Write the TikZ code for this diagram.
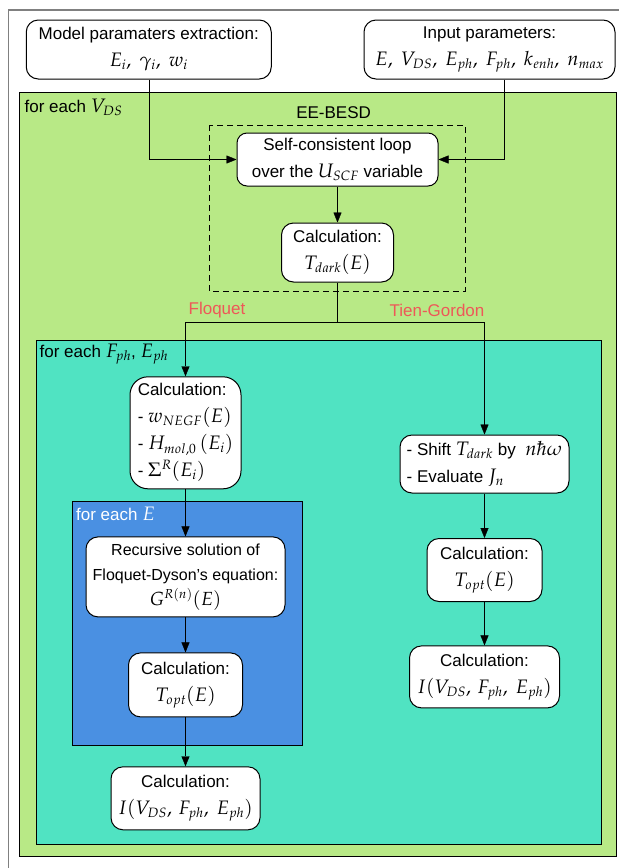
\documentclass[tikz,border=0pt]{standalone}
\usepackage{mathpazo}
\usepackage{fontspec}
\setmainfont{Liberation Sans}
\DeclareMathSizes{17}{19.5}{13.5}{10}
\DeclareMathSizes{16}{19}{13}{10}
\usetikzlibrary{arrows.meta}
\definecolor{verde}{HTML}{B8E986}
\definecolor{turquesa}{HTML}{50E3C2}
\definecolor{azul}{HTML}{4A90E2}
\definecolor{rojo}{RGB}{238,88,88}
\begin{document}
\begin{tikzpicture}[x=1pt, y=-1pt,
  font=\fontsize{17}{27}\selectfont,
  >={Triangle[length=10pt,width=8pt]},
  caja/.style={draw, fill=white, rounded corners=12pt, align=center, inner sep=2pt, line width=1pt},
  rotulo/.style={anchor=west, inner sep=0pt}]
\useasboundingbox (0,0) rectangle (619,868);

% Marco exterior
\draw[gray, line width=1.3pt] (8.7,868) -- (8.7,10) -- (619,10);

% Bloques de fondo
\draw[fill=verde, line width=1pt] (19.7,92) rectangle (616.5,856);
\draw[fill=turquesa, line width=1pt] (36.3,340.7) rectangle (601,844.3);
\draw[fill=azul, line width=1pt] (72,501) rectangle (302,745);
\draw[dashed, line width=1pt, dash pattern=on 6pt off 4pt] (209,125) rectangle (465,291);

% Rotulos de los bloques
\node[rotulo] (vds) at (24.5,107) {for each $V_{DS}$};
\node[rotulo] (fph) at (39.5,354) {for each $F_{ph}$, $E_{ph}$};
\node[rotulo, text=white] (ee) at (76,514) {for each $E$};
\node (besd) at (333.6,113) {EE-BESD};

% Entradas
\node[caja, minimum width=245pt, minimum height=59pt] (modelo) at (148.75,49.5)
  {Model paramaters extraction:\\ $E_i,\ \gamma_i,\ w_i$};
\node[caja, minimum width=251pt, minimum height=59pt, inner sep=1pt] (entrada) at (489.5,49.5)
  {Input parameters:\\ $E,\ V_{DS},\ E_{ph},\ F_{ph},\ k_{enh},\ n_{max}$};

% Lazo autoconsistente
\node[caja, minimum width=201pt, minimum height=53pt, rounded corners=10pt] (lazo) at (337.5,159.5)
  {Self-consistent loop\\ over the $U_{SCF}$ variable};
\node[caja, minimum width=112pt, minimum height=59pt] (tdark) at (337.5,252.5)
  {Calculation:\\ $T_{dark}(E)$};

% Rama Floquet
\node[caja, minimum width=111pt, minimum height=112pt, rounded corners=18pt, align=left] (calcA) at (185.5,432.8)
  {Calculation:\\ - $w_{NEGF}(E)$\\ - $H_{mol,0}\,(E_i)$\\ - $\Sigma^R(E_i)$};
\node[caja, minimum width=199pt, minimum height=80pt, font=\fontsize{16}{25}\selectfont] (recur) at (185.5,576.9)
  {Recursive solution of\\ Floquet-Dyson's equation:\\ $G^{R(n)}(E)$};
\node[caja, minimum width=114pt, minimum height=64pt] (toptA) at (185.5,684.9)
  {Calculation:\\ $T_{opt}(E)$};
\node[caja, minimum width=149pt, minimum height=63pt] (corrA) at (185.5,798.3)
  {Calculation:\\ $I(V_{DS},\,F_{ph},\ E_{ph})$};

% Rama Tien-Gordon
\node[caja, minimum width=169pt, minimum height=58pt, align=left] (desplaz) at (484.5,464)
  {- Shift $T_{dark}$ by \ $n\hbar\omega$\\ - Evaluate $J_n$};
\node[caja, minimum width=115pt, minimum height=63pt] (toptB) at (484.5,570)
  {Calculation:\\ $T_{opt}(E)$};
\node[caja, minimum width=150pt, minimum height=62pt] (corrB) at (484.5,676.9)
  {Calculation:\\ $I(V_{DS},\,F_{ph},\ E_{ph})$};

% Flechas
\draw[->] (modelo.south) |- (lazo.west);
\draw[->] ([xshift=15pt]entrada.south) |- (lazo.east);
\draw[->] (lazo.south) -- (tdark.north);
\coordinate (rama) at (337.5,321.7);
\draw (tdark.south) -- (rama);
\draw[->] (rama) -| (calcA.north);
\draw[->] (rama) -| (desplaz.north);
\node[text=rojo] (floquet) at (217,310) {Floquet};
\node[text=rojo] (tien) at (437,310) {Tien-Gordon};
\draw[->] (calcA.south) -- (recur.north);
\draw[->] (recur.south) -- (toptA.north);
\draw[->] (toptA.south) -- (corrA.north);
\draw[->] (desplaz.south) -- (toptB.north);
\draw[->] (toptB.south) -- (corrB.north);
\end{tikzpicture}
\end{document}
